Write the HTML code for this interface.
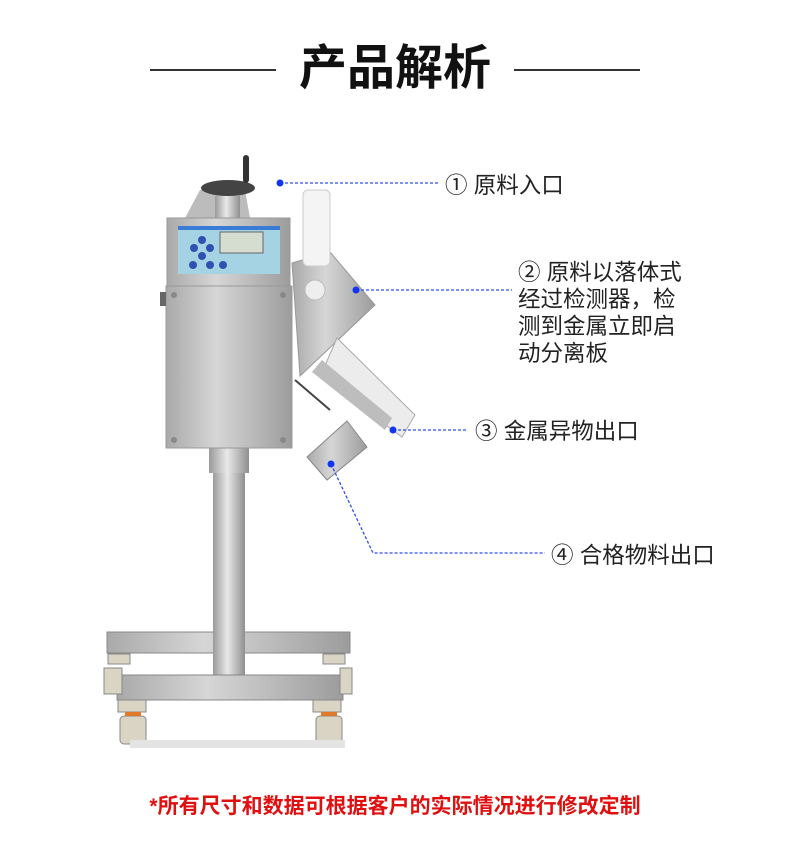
<!DOCTYPE html>
<html><head><meta charset="utf-8"><style>
body{margin:0;background:#fff;}
.w{position:relative;width:790px;height:845px;overflow:hidden;font-family:"Liberation Sans","Noto Sans CJK SC",sans-serif;}
.t{position:absolute;color:#222;font-size:22.5px;white-space:nowrap;line-height:27px;}
</style></head><body><div class="w">
<svg width="790" height="845" style="position:absolute;left:0;top:0">
<defs>
<linearGradient id="st" x1="0" x2="1"><stop offset="0" stop-color="#a9a9a9"/><stop offset=".4" stop-color="#d6d6d6"/><stop offset="1" stop-color="#9c9c9c"/></linearGradient>
<linearGradient id="pl" x1="0" x2="1"><stop offset="0" stop-color="#9a9a9a"/><stop offset=".45" stop-color="#e8e8e8"/><stop offset="1" stop-color="#8f8f8f"/></linearGradient>
</defs>
<line x1="150" y1="70" x2="276" y2="70" stroke="#333" stroke-width="2"/>
<line x1="514" y1="70" x2="640" y2="70" stroke="#333" stroke-width="2"/>
<rect x="107" y="632" width="243" height="21" fill="url(#st)" stroke="#888"/>
<rect x="213" y="470" width="32" height="205" fill="url(#pl)"/>
<rect x="209" y="448" width="40" height="25" fill="url(#pl)"/>
<rect x="117" y="675" width="226" height="25" fill="url(#st)" stroke="#888"/>
<g fill="#d9d4c4" stroke="#888">
<rect x="108" y="654" width="22" height="10"/><rect x="323" y="654" width="22" height="10"/>
<rect x="104" y="668" width="18" height="26"/><rect x="340" y="668" width="12" height="26"/>
<rect x="118" y="700" width="28" height="12"/><rect x="313" y="700" width="28" height="12"/>
<rect x="120" y="716" width="26" height="28" rx="4"/><rect x="316" y="716" width="26" height="28" rx="4"/>
</g>
<rect x="125" y="712" width="16" height="4" fill="#e07a2a"/><rect x="321" y="712" width="16" height="4" fill="#e07a2a"/>
<rect x="130" y="740" width="215" height="8" fill="#e4e4e4"/>
<polygon points="330,252 375,305 300,376 292,263" fill="url(#st)" stroke="#999"/>
<polygon points="337,338 415,415 402,437 320,377" fill="#ececec" stroke="#aaa"/>
<polygon points="322,360 392,418 385,430 312,372" fill="#bdbdbd"/>
<polygon points="307,457 347,421 367,447 327,480" fill="url(#st)" stroke="#888"/>
<line x1="295" y1="380" x2="330" y2="410" stroke="#444" stroke-width="2"/>
<rect x="303" y="190" width="27" height="76" rx="5" fill="#f4f4f4" stroke="#ccc"/>
<circle cx="315" cy="290" r="10" fill="#eee" stroke="#bbb"/>
<polygon points="185,218 200,190 245,190 250,218" fill="#bcbcbc"/>
<rect x="215" y="196" width="25" height="22" fill="url(#pl)"/>
<ellipse cx="228" cy="188" rx="27" ry="8" fill="#444"/>
<rect x="243" y="155" width="6" height="28" rx="3" fill="#333"/>
<rect x="167" y="218" width="123" height="68" fill="url(#st)" stroke="#999"/>
<rect x="178" y="226" width="102" height="48" fill="#a6d3e3"/>
<rect x="178" y="226" width="102" height="4" fill="#3a7bd5"/>
<rect x="220" y="232" width="43" height="21" fill="#d5dcd0" stroke="#666"/>
<g fill="#2f52b0"><circle cx="202" cy="240" r="4"/><circle cx="194" cy="248" r="4"/><circle cx="210" cy="248" r="4"/><circle cx="202" cy="256" r="4"/><circle cx="193" cy="265" r="4"/><circle cx="210" cy="265" r="4"/><circle cx="223" cy="265" r="4"/></g>
<rect x="166" y="286" width="126" height="162" fill="url(#st)" stroke="#999"/>
<rect x="160" y="292" width="6" height="14" fill="#666"/>
<g fill="#888"><circle cx="174" cy="295" r="3"/><circle cx="283" cy="295" r="3"/><circle cx="174" cy="440" r="3"/><circle cx="283" cy="440" r="3"/></g>
<g stroke="#2e4df0" stroke-width="1.3" stroke-dasharray="3,2" fill="none">
<line x1="280" y1="183" x2="440" y2="183"/>
<line x1="356" y1="290" x2="512" y2="290"/>
<line x1="393" y1="430" x2="468" y2="430"/>
<polyline points="331,464 373,553 545,553"/>
</g>
<g fill="#1236f0"><circle cx="280" cy="183" r="3.5"/><circle cx="356" cy="290" r="3.5"/><circle cx="393" cy="430" r="3.5"/><circle cx="331" cy="464" r="3.5"/></g>
</svg>
<div style="position:absolute;left:0;width:790px;top:38px;text-align:center;font-size:48px;font-weight:bold;color:#111;line-height:62px;font-family:'Liberation Sans','Noto Sans CJK SC',sans-serif">产品解析</div>
<div class="t" style="left:445px;top:172px">① 原料入口</div>
<div class="t" style="left:518px;top:259px">② 原料以落体式<br>经过检测器，检<br>测到金属立即启<br>动分离板</div>
<div class="t" style="left:475px;top:418px">③ 金属异物出口</div>
<div class="t" style="left:551px;top:542px">④ 合格物料出口</div>
<div style="position:absolute;left:0;width:790px;top:790px;text-align:center;font-size:21px;font-weight:bold;color:#e01010;font-family:'Liberation Sans','Noto Sans CJK SC',sans-serif">*所有尺寸和数据可根据客户的实际情况进行修改定制</div>
</div></body></html>
